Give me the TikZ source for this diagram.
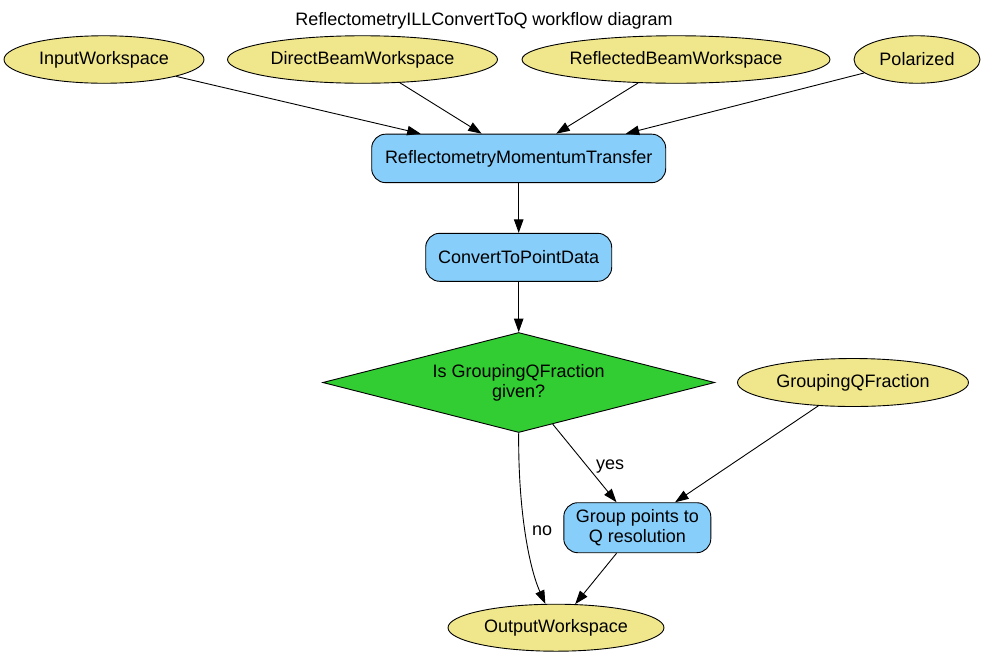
\documentclass[tikz,border=0pt]{standalone}
\usepackage{fontspec}
\setmainfont{Liberation Sans}
\usetikzlibrary{arrows.meta,shapes.geometric,calc}
\definecolor{khakic}{HTML}{F0E68C}
\definecolor{skyc}{HTML}{87CEFA}
\definecolor{limec}{HTML}{32CD32}
\newcommand{\zw}[1]{\makebox[0pt]{#1}}
\begin{document}
\begin{tikzpicture}[x=1pt,y=-1pt,
  every node/.style={font=\fontsize{18}{20}\selectfont},
  prop/.style={ellipse, draw=black, line width=0.9pt, fill=khakic, inner sep=0pt},
  algo/.style={rectangle, rounded corners=14pt, draw=black, line width=0.9pt, fill=skyc, inner sep=0pt, align=center},
  decide/.style={diamond, draw=black, line width=0.9pt, fill=limec, inner sep=0pt, aspect=3.9, align=center, minimum width=392pt, minimum height=100pt},
  conn/.style={line width=0.9pt, -{Triangle[length=13.5pt,width=9.5pt]}},
  lab/.style={inner sep=0pt}]
\useasboundingbox (0,0) rectangle (985,657);
\node (title) at (484,21) {ReflectometryILLConvertToQ workflow diagram};
\node[prop, minimum width=200pt, minimum height=47.5pt] (in) at (104,59.5) {\zw{InputWorkspace}};
\node[prop, minimum width=270pt, minimum height=47.5pt] (db) at (362.5,59.5) {\zw{DirectBeamWorkspace}};
\node[prop, minimum width=308pt, minimum height=47.5pt] (rb) at (676,59.5) {\zw{ReflectedBeamWorkspace}};
\node[prop, minimum width=126pt, minimum height=47.5pt] (pol) at (917,59.5) {\zw{Polarized}};
\node[algo, minimum width=294pt, minimum height=48.5pt] (rmt) at (518.7,158.4) {ReflectometryMomentumTransfer};
\node[algo, minimum width=186pt, minimum height=48pt] (ctpd) at (518.7,257.3) {ConvertToPointData};
\node[decide] (dia) at (518.7,382.5) {Is GroupingQFraction\\given?};
\node[prop, minimum width=231pt, minimum height=48pt] (gqf) at (853,382.5) {\zw{GroupingQFraction}};
\node[algo, minimum width=147pt, minimum height=50pt] (grp) at (637.3,527.7) {Group points to\\Q resolution};
\node[prop, minimum width=216pt, minimum height=47pt] (out) at (556,627.7) {\zw{OutputWorkspace}};
\draw[conn] (in) -- ($(rmt.north)+(-98,0)$);
\draw[conn] (db) -- ($(rmt.north)+(-37,0)$);
\draw[conn] (rb) -- ($(rmt.north)+(37.5,0)$);
\draw[conn] (pol) -- ($(rmt.north)+(107,0)$);
\draw[conn] (rmt) -- (ctpd);
\draw[conn] (ctpd) -- (dia);
\draw[conn] (dia) -- node[lab, pos=0.54, right=8.5pt] {yes} (grp);
\draw[conn] (gqf) -- (grp);
\draw[conn] (dia.south) .. controls (518,505) and (528,565) .. node[lab, pos=0.5, right=6.5pt] {no} (out);
\draw[conn] (grp) -- (out);
\end{tikzpicture}
\end{document}
